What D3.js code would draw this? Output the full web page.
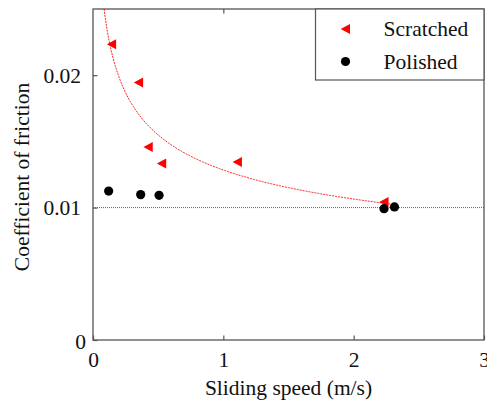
<!DOCTYPE html>
<html>
<head>
<meta charset="utf-8">
<script src="https://cdn.jsdelivr.net/npm/d3@7"></script>
<style>
  body { margin: 0; background: #fff; }
  svg text { font-family: 'Liberation Serif', 'Tinos', 'DejaVu Serif', serif; }
</style>
</head>
<body>
<div id="mount"></div>
<script>
'use strict';

// data
const scratchedSpeed = [0.143, 0.35, 0.424, 0.527, 1.108, 2.233];
const scratchedMu    = [0.02233, 0.01944, 0.01457, 0.01334, 0.01344, 0.01042];
const polishedSpeed  = [0.12, 0.366, 0.507, 2.233, 2.313];
const polishedMu     = [0.01125, 0.01098, 0.01093, 0.00992, 0.01005];
const xTicks = [0, 1, 2, 3];
const yTicks = [0, 0.01, 0.02];
const refMu = 0.01;

const margin = { top: 9, left: 93, bottom: 63, right: 3 },
      width = 487 - margin.left - margin.right,
      height = 403 - margin.top - margin.bottom;

const fontFam = "'Liberation Serif', 'Tinos', 'DejaVu Serif', serif";
const fontSize = '21.5px';

const svg = d3.select('#mount').append('svg')
    .attr('width', width + margin.left + margin.right)
    .attr('height', height + margin.top + margin.bottom);

const graph = svg.append('g')
    .attr('transform', `translate(${margin.left}, ${margin.top})`);

const x = d3.scaleLinear().domain([0, 3]).range([0, width]);
const y = d3.scaleLinear().domain([0, 0.025]).range([height, 0]);

const axisColor = '#555';

// clip for the curve
svg.append('defs').append('clipPath').attr('id', 'plot-clip')
  .append('rect').attr('width', width).attr('height', height);

// reference line at 0.01
graph.append('line')
    .attr('x1', 0).attr('x2', width)
    .attr('y1', y(refMu)).attr('y2', y(refMu))
    .style('stroke', '#333')
    .style('stroke-width', 0.8)
    .style('stroke-dasharray', '1,1');

// power-law least-squares fit of the scratched series: mu = a * v^b
const lx = scratchedSpeed.map(Math.log), ly = scratchedMu.map(Math.log);
const mx = d3.mean(lx), my = d3.mean(ly);
const fitB = d3.sum(lx, (v, i) => (v - mx) * (ly[i] - my)) / d3.sum(lx, v => (v - mx) * (v - mx));
const fitA = Math.exp(my - fitB * mx);
const fitEnd = d3.max(polishedSpeed);
const fitPts = d3.range(0.04, fitEnd, 0.01).concat([fitEnd]).map(v => [v, fitA * Math.pow(v, fitB)]);

graph.append('path')
    .datum(fitPts)
    .attr('clip-path', 'url(#plot-clip)')
    .attr('d', d3.line().x(d => x(d[0])).y(d => y(d[1])))
    .style('fill', 'none')
    .style('stroke', '#f22')
    .style('stroke-width', 1)
    .style('stroke-dasharray', '2,1');

// axes with inward ticks
const xAxis = graph.append('g')
    .attr('transform', `translate(0, ${height})`)
    .call(d3.axisBottom(x).tickValues(xTicks).tickFormat(d3.format('d'))
      .tickSizeInner(-4.5).tickSizeOuter(0).tickPadding(12));
const yAxis = graph.append('g')
    .call(d3.axisLeft(y).tickValues(yTicks).tickFormat(d => d === 0 ? '0' : d3.format('.2f')(d))
      .tickSizeInner(-4.5).tickSizeOuter(0).tickPadding(12));
const xTop = graph.append('g')
    .call(d3.axisTop(x).tickValues(xTicks.slice(1, -1)).tickFormat('')
      .tickSizeInner(-4.5).tickSizeOuter(0));

[xAxis, yAxis, xTop].forEach(a => {
  a.attr('font-family', fontFam).attr('font-size', fontSize);
  a.select('.domain').remove();
  a.selectAll('line').style('stroke', axisColor).style('stroke-width', 1.2);
  a.selectAll('text').style('fill', '#111');
});
yAxis.selectAll('.tick').filter(d => d === 0).select('text').attr('x', -7).attr('dy', '0.4em');

// frame
graph.append('rect')
    .attr('width', width).attr('height', height)
    .style('fill', 'none')
    .style('stroke', axisColor)
    .style('stroke-width', 1.3);

// triangle pointing left
const triPath = (cx, cy) => `M${cx - 4.8},${cy} L${cx + 4.5},${cy - 5} L${cx + 4.5},${cy + 5} Z`;

graph.selectAll('.scratched')
  .data(scratchedSpeed.map((v, i) => [v, scratchedMu[i]]))
  .enter().append('path')
    .attr('class', 'scratched')
    .attr('d', d => triPath(x(d[0]), y(d[1])))
    .style('fill', '#f00');

graph.selectAll('.polished')
  .data(polishedSpeed.map((v, i) => [v, polishedMu[i]]))
  .enter().append('circle')
    .attr('class', 'polished')
    .attr('r', 4.6)
    .attr('cx', d => x(d[0]))
    .attr('cy', d => y(d[1]))
    .style('fill', '#000');

// axis labels
svg.append('text')
    .attr('x', margin.left + width / 2)
    .attr('y', 395)
    .attr('text-anchor', 'middle')
    .attr('font-family', fontFam)
    .attr('font-size', fontSize)
    .style('fill', '#111')
    .text('Sliding speed (m/s)');

svg.append('text')
    .attr('transform', 'translate(29, 177) rotate(-90)')
    .attr('text-anchor', 'middle')
    .attr('font-family', fontFam)
    .attr('font-size', fontSize)
    .style('fill', '#111')
    .text('Coefficient of friction');

// legend
const legend = svg.append('g').attr('transform', 'translate(315.5, 9)');
legend.append('rect')
    .attr('width', 487 - margin.right - 315.5).attr('height', 71)
    .style('fill', '#fff')
    .style('stroke', axisColor)
    .style('stroke-width', 1.2);
legend.append('path').attr('d', triPath(30, 20)).style('fill', '#f00');
legend.append('circle').attr('cx', 30).attr('cy', 52.5).attr('r', 4.6).style('fill', '#000');
legend.append('text').attr('x', 68).attr('y', 27)
    .attr('font-family', fontFam).attr('font-size', fontSize).style('fill', '#111').text('Scratched');
legend.append('text').attr('x', 68).attr('y', 60)
    .attr('font-family', fontFam).attr('font-size', fontSize).style('fill', '#111').text('Polished');
</script>
</body>
</html>
